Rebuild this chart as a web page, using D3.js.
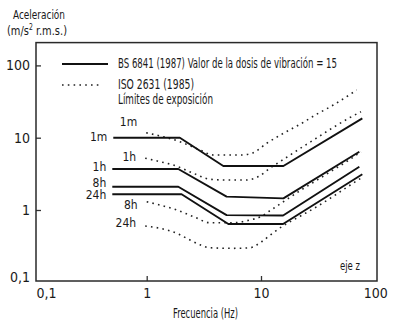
<!DOCTYPE html>
<html>
<head>
<meta charset="utf-8">
<script src="https://cdn.jsdelivr.net/npm/d3@7"></script>
<style>
  html, body { margin: 0; padding: 0; background: #fff; }
  svg { display: block; }
  text { font-family: 'Liberation Sans Narrow', 'DejaVu Sans Condensed', sans-serif; fill: #1a1a1a; }
</style>
</head>
<body>
<svg id="chart" width="398" height="322"></svg>
<script>
// Frequency (Hz) / acceleration (m/s² r.m.s.) pairs, z axis

// BS 6841 (1987), vibration dose value = 15
const bsDurations = ["1m", "1h", "8h", "24h"];
const bs1m  = [[0.51, 10.0], [1.95, 10.0], [4.68, 4.06], [15.7, 4.06], [77, 18.5]];
const bs1h  = [[0.50, 3.69], [1.89, 3.69], [5.0, 1.53], [15.7, 1.45], [72.5, 6.4]];
const bs8h  = [[0.50, 2.10], [1.89, 2.10], [5.0, 0.85], [15.6, 0.84], [72.5, 3.97]];
const bs24h = [[0.50, 1.65], [2.02, 1.65], [5.18, 0.64], [15.6, 0.64], [77, 3.12]];

// ISO 2631 (1985), exposure limits
const isoDurations = ["1m", "1h", "8h", "24h"];
const iso1m  = [[0.99, 11.7], [1.95, 8.8], [2.93, 6.76], [3.8, 5.77], [6.8, 5.77], [8.57, 6.2],
                [11.2, 8.36], [15.7, 11.5], [21.9, 15.3], [30.7, 21.1], [42.9, 28.3], [68.8, 45.7]];
const iso1h  = [[0.97, 5.2], [1.31, 4.66], [1.71, 4.19], [2.56, 3.22], [3.58, 2.66], [5.0, 2.6],
                [7.5, 2.6], [9.5, 2.9], [12, 3.8], [16, 5.1], [22, 7.1], [31, 10.0], [43, 13.9], [60, 19.0], [75, 22.9]];
const iso8h  = [[1.0, 1.30], [1.31, 1.17], [1.83, 1.0], [2.56, 0.81], [3.58, 0.667], [5.7, 0.667],
                [8.0, 0.727], [9.8, 0.80], [12, 0.98], [16, 1.33], [22, 1.85], [31, 2.6], [43, 3.6], [60, 5.0], [75, 6.4]];
const iso24h = [[0.97, 0.60], [1.31, 0.558], [1.83, 0.476], [2.39, 0.385], [2.93, 0.33], [3.6, 0.30],
                [5.7, 0.295], [8.0, 0.30], [10.1, 0.364], [12.7, 0.48], [15.2, 0.588], [22, 0.82],
                [31, 1.12], [43, 1.55], [60, 2.2], [76, 2.8]];

const xTicks = [0.1, 1, 10, 100];
const yTicks = [0.1, 1, 10, 100];

const legendLabels = ["BS 6841 (1987) Valor de la dosis de vibración = 15", "ISO 2631 (1985)", "Límites de exposición"];
const xTitle = "Frecuencia (Hz)";
const axisNote = "eje z";

const svg = d3.select("#chart");
const fmt = d => String(d).replace(".", ",");

const x = d3.scaleLog().domain([0.1, 100]).range([32.4, 375.3]);
const y = d3.scaleLog().domain([0.1, 100]).range([282.3, 65.4]);

const frame = { left: 36, top: 42.6, right: 377, bottom: 281 };

function fit(sel, w) {
  return sel.attr("textLength", w).attr("lengthAdjust", "spacingAndGlyphs");
}

// axes: short inward ticks, comma decimals
const yAxis = svg.append("g")
  .attr("transform", `translate(${frame.left},0)`)
  .call(d3.axisLeft(y).tickValues(yTicks).tickFormat(fmt).tickSizeInner(-5).tickSizeOuter(0).tickPadding(6));
yAxis.select(".domain").remove();
yAxis.selectAll(".tick line").attr("stroke", "#333").attr("stroke-width", 1.3)
  .filter(d => d === 0.1).remove();
yAxis.selectAll(".tick text").attr("font-size", 14).attr("fill", "#1a1a1a")
  .attr("font-family", null)
  .filter(d => d === 0.1).attr("dy", "-0.05em");

const xAxis = svg.append("g")
  .attr("transform", `translate(0,${frame.bottom})`)
  .call(d3.axisBottom(x).tickValues(xTicks).tickFormat(fmt).tickSizeInner(-5).tickSizeOuter(0).tickPadding(7));
xAxis.select(".domain").remove();
xAxis.selectAll(".tick line").attr("stroke", "#333").attr("stroke-width", 1.3)
  .filter(d => d === 0.1 || d === 100).remove();
xAxis.selectAll(".tick text").attr("font-size", 14).attr("fill", "#1a1a1a")
  .attr("font-family", null);
xAxis.selectAll(".tick text").filter(d => d === 0.1)
  .attr("text-anchor", "start").attr("x", frame.left - x(0.1));

// plot frame
svg.append("rect")
  .attr("x", frame.left).attr("y", frame.top)
  .attr("width", frame.right - frame.left).attr("height", frame.bottom - frame.top)
  .attr("fill", "none").attr("stroke", "#2a2a2a").attr("stroke-width", 1.5);

// axis titles
fit(svg.append("text").attr("x", 13).attr("y", 19).attr("font-size", 13).text("Aceleración"), 52);
const unit = svg.append("text").attr("x", 7).attr("y", 35).attr("font-size", 13);
unit.append("tspan").text("(m/s");
unit.append("tspan").attr("font-size", 8).attr("dy", -5).text("2");
unit.append("tspan").attr("dy", 5).text(" r.m.s.)");
fit(unit, 60);

fit(svg.append("text").attr("x", 205.5).attr("y", 318).attr("text-anchor", "middle")
  .attr("font-size", 14).text(xTitle), 65);

// curves
const line = d3.line().x(d => x(d[0])).y(d => y(d[1]));
const smooth = d3.line().x(d => x(d[0])).y(d => y(d[1])).curve(d3.curveMonotoneX);

const bsSeries = [bs1m, bs1h, bs8h, bs24h];
const isoSeries = [iso1m, iso1h, iso8h, iso24h];

svg.append("g").selectAll("path").data(isoSeries).join("path")
  .attr("d", smooth)
  .attr("fill", "none").attr("stroke", "#222").attr("stroke-width", 1.6)
  .attr("stroke-dasharray", "1.6 4.2");

svg.append("g").selectAll("path").data(bsSeries).join("path")
  .attr("d", line)
  .attr("fill", "none").attr("stroke", "#111").attr("stroke-width", 1.9)
  .attr("stroke-linejoin", "round");

// duration labels next to where each curve starts
const bsLabelDy = [-1, -2.5, -3.5, 0.5];
svg.append("g").selectAll("text").data(bsSeries).join("text")
  .attr("x", d => x(d[0][0]) - 6)
  .attr("y", (d, i) => y(d[0][1]) + bsLabelDy[i])
  .attr("dy", "0.35em").attr("text-anchor", "end").attr("font-size", 12)
  .text((d, i) => bsDurations[i]);

const isoLabelDy = [-10.5, -1.5, 3.5, -3.5];
svg.append("g").selectAll("text").data(isoSeries).join("text")
  .attr("x", d => x(d[0][0]) - 9)
  .attr("y", (d, i) => y(d[0][1]) + isoLabelDy[i])
  .attr("dy", "0.35em").attr("text-anchor", "end").attr("font-size", 12)
  .text((d, i) => isoDurations[i]);

// legend
const lg = svg.append("g");
lg.append("line").attr("x1", 62).attr("x2", 108).attr("y1", 64).attr("y2", 64)
  .attr("stroke", "#111").attr("stroke-width", 1.9);
lg.append("line").attr("x1", 62).attr("x2", 102).attr("y1", 85).attr("y2", 85)
  .attr("stroke", "#222").attr("stroke-width", 1.6).attr("stroke-dasharray", "1.6 4.2");
fit(lg.append("text").attr("x", 118).attr("y", 63.5).attr("dy", "0.35em").attr("font-size", 14).text(legendLabels[0]), 219);
fit(lg.append("text").attr("x", 118).attr("y", 84).attr("dy", "0.35em").attr("font-size", 14).text(legendLabels[1]), 76);
fit(lg.append("text").attr("x", 118).attr("y", 99).attr("dy", "0.35em").attr("font-size", 14).text(legendLabels[2]), 95);

fit(svg.append("text").attr("x", 340).attr("y", 265).attr("dy", "0.35em").attr("font-size", 13).text(axisNote), 20);
</script>
</body>
</html>
